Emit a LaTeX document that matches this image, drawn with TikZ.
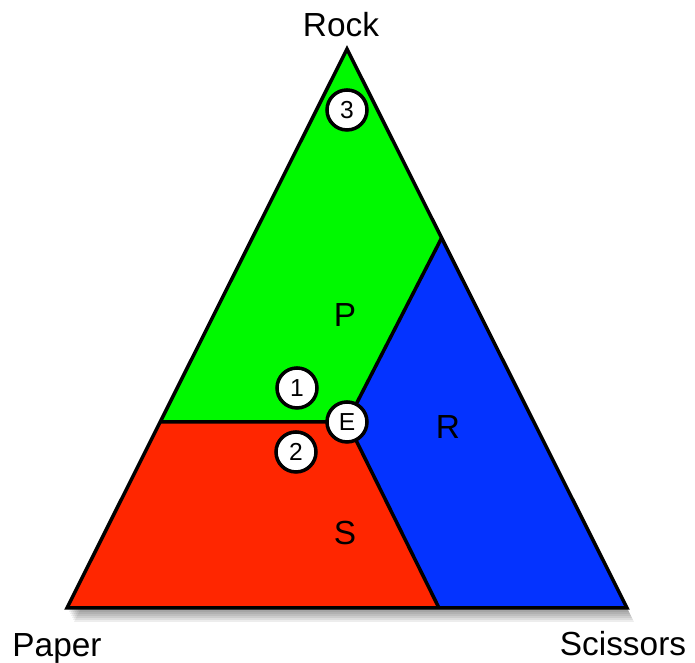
\documentclass[tikz,border=0pt]{standalone}
\usepackage{fontspec}
\setmainfont{Liberation Sans}
\usetikzlibrary{calc}
\definecolor{cgreen}{HTML}{00F900}
\definecolor{cred}{HTML}{FF2600}
\definecolor{cblue}{HTML}{0433FF}
\tikzset{
  every picture/.style={line width=2pt},
  marker/.style={circle, draw=black, fill=white, line width=2pt, minimum size=0.8cm, inner sep=0pt, font=\fontsize{14}{16}\selectfont},
  region/.style={font=\fontsize{19}{21}\selectfont},
  corner/.style={font=\fontsize{19}{21}\selectfont, anchor=base},
}
\newcommand{\tripath}{(6.94,12.28) -- (1.34,1.10) -- (12.54,1.10) -- cycle}

\begin{document}
\begin{tikzpicture}
  \useasboundingbox (0,0) rectangle (13.9,13.26);
  % soft shadow under the triangle
  \foreach \s in {1,...,7}
    \fill[black, opacity=0.07, shift={(0.02*\s,-0.04*\s)}] \tripath;
  \coordinate (top) at (6.94,12.28);
  \coordinate (bl) at (1.34,1.10);
  \coordinate (br) at (12.54,1.10);
  \coordinate (mid) at (6.94,4.82);
  \coordinate (lft) at ($(top)!0.667!(bl)$);
  \coordinate (rgt) at ($(top)!0.338!(br)$);
  \coordinate (bot) at (8.78,1.10);
  % regions
  \fill[cgreen] (top) -- (lft) -- (mid) -- (rgt) -- cycle;
  \fill[cred] (lft) -- (bl) -- (bot) -- (mid) -- cycle;
  \fill[cblue] (rgt) -- (mid) -- (bot) -- (br) -- cycle;
  \draw (lft) -- (mid) -- (rgt) (mid) -- (bot);
  \draw (top) -- (bl) -- (br) -- cycle;
  \node[region] (p) at (6.90,6.96) {P};
  \node[region] (r) at (8.96,4.72) {R};
  \node[region] (s) at (6.90,2.60) {S};
  \node[marker] (e) at (mid) {E};
  \node[marker] (m1) at (5.94,5.50) {1};
  \node[marker] (m2) at (5.92,4.22) {2};
  \node[marker] (m3) at (6.94,11.06) {3};
  \node[corner] (rock) at (6.82,12.52) {Rock};
  \node[corner] (paper) at (1.14,0.12) {Paper};
  \node[corner] (scissors) at (12.46,0.14) {Scissors};
\end{tikzpicture}
\end{document}
